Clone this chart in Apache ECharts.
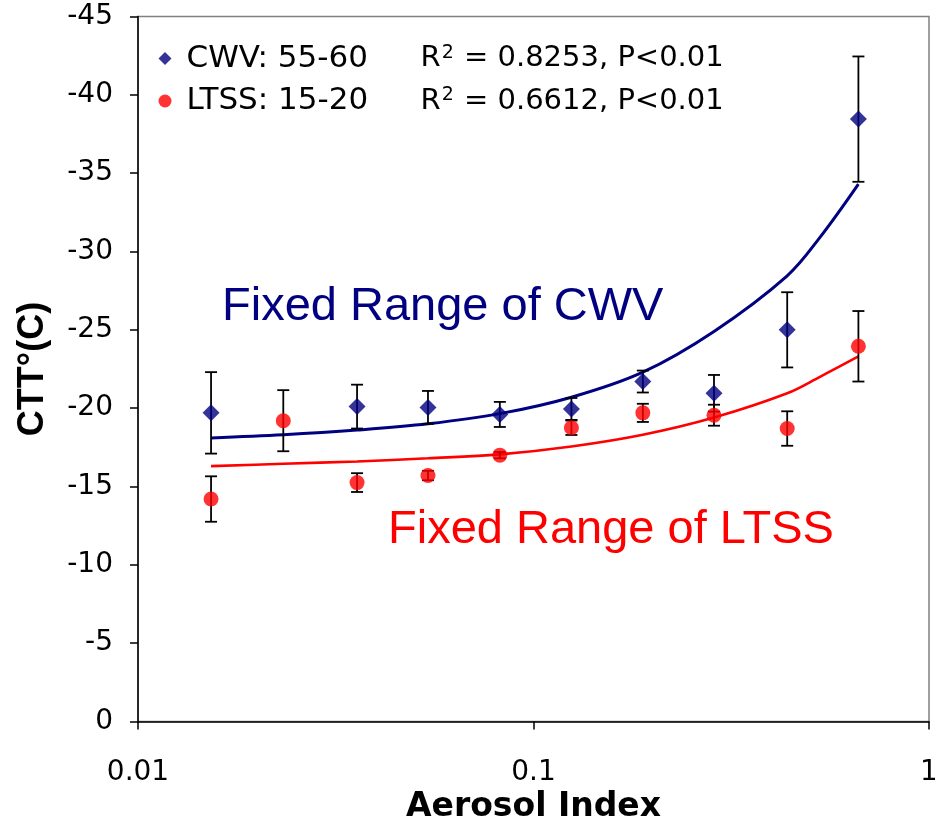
<!DOCTYPE html>
<html>
<head>
<meta charset="utf-8">
<script src="https://cdn.jsdelivr.net/npm/echarts/dist/echarts.min.js"></script>
<style>
html,body{margin:0;padding:0;background:#ffffff;}
#chart{width:935px;height:818px;}
</style>
</head>
<body>
<div id="chart"></div>
<script>
// ---- data ----
const xTickValues = [0.01, 0.1, 1];
const xTickLabels = ['0.01', '0.1', '1'];

const cwvName = 'CWV: 55-60';
const ltssName = 'LTSS: 15-20';
const r2Values = ['0.8253', '0.6612'];
const pText = 'P<0.01';

const cwvX   = [0.0153, 0.0358, 0.0541, 0.0822, 0.1247, 0.189, 0.286, 0.438, 0.663];
const cwvY   = [-19.7, -20.1, -20.05, -19.6, -19.95, -21.7, -20.95, -25.0, -38.45];
const cwvErr = [2.6, 1.4, 1.05, 0.8, 0.7, 0.7, 1.17, 2.4, 4.0];

const ltssX   = [0.0153, 0.0233, 0.0358, 0.0541, 0.0822, 0.1247, 0.189, 0.286, 0.438, 0.663];
const ltssY   = [-14.2, -19.2, -15.25, -15.7, -17.0, -18.75, -19.7, -19.55, -18.7, -23.95];
const ltssErr = [1.45, 1.95, 0.6, 0.3, 0.2, 0.46, 0.58, 0.67, 1.1, 2.25];

const fitX    = [0.0153, 0.0233, 0.0358, 0.0541, 0.0822, 0.1247, 0.189, 0.286, 0.438, 0.53, 0.663];
const cwvFit  = [-18.1, -18.3, -18.6, -19.0, -19.65, -20.7, -22.3, -24.9, -28.45, -30.9, -34.3];
const ltssFit = [-16.3, -16.45, -16.6, -16.8, -17.05, -17.55, -18.3, -19.4, -20.95, -22.0, -23.3];

const cwvNote = 'Fixed Range of CWV';
const ltssNote = 'Fixed Range of LTSS';

// ---- chart ----
const BLUE = '#000080';
const RED = '#ff0000';

function errorBarItem(params, api) {
  const x = api.value(0), lo = api.value(1), hi = api.value(2);
  const pLo = api.coord([x, lo]);
  const pHi = api.coord([x, hi]);
  const hw = 6;
  const style = { stroke: '#000000', lineWidth: 1.8 };
  return {
    type: 'group',
    children: [
      { type: 'line', shape: { x1: pLo[0], y1: pLo[1], x2: pHi[0], y2: pHi[1] }, style: style },
      { type: 'line', shape: { x1: pLo[0] - hw, y1: pLo[1], x2: pLo[0] + hw, y2: pLo[1] }, style: style },
      { type: 'line', shape: { x1: pHi[0] - hw, y1: pHi[1], x2: pHi[0] + hw, y2: pHi[1] }, style: style }
    ]
  };
}

const legendR2 = {};
legendR2[cwvName] = r2Values[0];
legendR2[ltssName] = r2Values[1];

const chart = echarts.init(document.getElementById('chart'), null, { renderer: 'canvas' });
chart.setOption({
  animation: false,
  backgroundColor: '#ffffff',
  grid: {
    left: 138, right: 6, top: 16.5, bottom: 96.5,
    outerBoundsMode: 'none',
    containLabel: false,
    show: true, borderColor: '#808080', borderWidth: 1.5, backgroundColor: 'transparent'
  },
  legend: {
    orient: 'vertical',
    left: 158.5, top: 43,
    padding: 0,
    itemWidth: 13, itemHeight: 13,
    itemGap: 11.5,
    selectedMode: false,
    data: [{ name: cwvName, icon: 'diamond' }, { name: ltssName, icon: 'circle' }],
    formatter: function (name) {
      return '{n|' + name + '}{r|R}{s|2}{r| = ' + legendR2[name] + ', ' + pText + '}';
    },
    textStyle: {
      color: '#000000',
      fontFamily: 'DejaVu Sans',
      fontSize: 29,
      rich: {
        n: { fontFamily: 'DejaVu Sans', fontSize: 31, lineHeight: 30, width: 234, padding: [0, 0, 0, 10], color: '#000000' },
        r: { fontFamily: 'DejaVu Sans', fontSize: 29, lineHeight: 30, color: '#000000' },
        s: { fontFamily: 'DejaVu Sans', fontSize: 19, lineHeight: 8, verticalAlign: 'top', color: '#000000', padding: [0, 1, 0, 1] }
      }
    }
  },
  xAxis: {
    type: 'log',
    logBase: 10,
    min: 0.01,
    max: 1,
    name: 'Aerosol Index',
    nameLocation: 'middle',
    nameGap: 50,
    nameTextStyle: { fontFamily: 'DejaVu Sans', fontWeight: 'bold', fontSize: 33, color: '#000000' },
    axisLine: { show: true, onZero: false, lineStyle: { color: '#000000', width: 1.5 } },
    axisTick: { show: true, length: 8, inside: false, lineStyle: { color: '#000000', width: 1.5 } },
    minorTick: { show: false },
    splitLine: { show: false },
    axisLabel: {
      margin: 37,
      fontFamily: 'DejaVu Sans',
      fontSize: 28,
      color: '#000000',
      formatter: function (v) {
        for (let i = 0; i < xTickValues.length; i++) {
          if (Math.abs(Math.log10(xTickValues[i]) - Math.log10(v)) < 1e-6) return xTickLabels[i];
        }
        return '';
      }
    }
  },
  yAxis: {
    type: 'value',
    min: -45,
    max: 0,
    interval: 5,
    inverse: true,
    name: 'CTT°(C)',
    nameLocation: 'middle',
    nameRotate: 90,
    nameGap: 87,
    nameTextStyle: { fontFamily: 'Liberation Sans', fontWeight: 'bold', fontSize: 36, color: '#000000' },
    axisLine: { show: true, onZero: false, lineStyle: { color: '#000000', width: 1.5 } },
    axisTick: { show: true, length: 8, inside: false, lineStyle: { color: '#000000', width: 1.5 } },
    splitLine: { show: false },
    axisLabel: { margin: 25, fontFamily: 'DejaVu Sans', fontSize: 28, color: '#000000' }
  },
  graphic: [
    {
      type: 'text', left: 222, top: 284, z: 10,
      style: { text: cwvNote, font: '47px "Liberation Sans"', fill: BLUE }
    },
    {
      type: 'text', left: 388, top: 507, z: 10,
      style: { text: ltssNote, font: '47px "Liberation Sans"', fill: RED }
    }
  ],
  series: [
    {
      name: 'CWV fit', type: 'line', silent: true,
      data: fitX.map((x, i) => [x, cwvFit[i]]),
      smooth: 0.35, symbol: 'none',
      lineStyle: { color: BLUE, width: 3 }, z: 2
    },
    {
      name: 'LTSS fit', type: 'line', silent: true,
      data: fitX.map((x, i) => [x, ltssFit[i]]),
      smooth: 0.35, symbol: 'none',
      lineStyle: { color: RED, width: 2.6 }, z: 2
    },
    {
      name: 'CWV err', type: 'custom', silent: true,
      renderItem: errorBarItem,
      encode: { x: 0, y: [1, 2] },
      data: cwvX.map((x, i) => [x, cwvY[i] - cwvErr[i], cwvY[i] + cwvErr[i]]),
      z: 3
    },
    {
      name: 'LTSS err', type: 'custom', silent: true,
      renderItem: errorBarItem,
      encode: { x: 0, y: [1, 2] },
      data: ltssX.map((x, i) => [x, ltssY[i] - ltssErr[i], ltssY[i] + ltssErr[i]]),
      z: 3
    },
    {
      name: cwvName, type: 'scatter', symbol: 'diamond', symbolSize: 17,
      data: cwvX.map((x, i) => [x, cwvY[i]]),
      itemStyle: { color: BLUE }, z: 5
    },
    {
      name: ltssName, type: 'scatter', symbol: 'circle', symbolSize: 15,
      data: ltssX.map((x, i) => [x, ltssY[i]]),
      itemStyle: { color: RED }, z: 5
    }
  ]
});
</script>
</body>
</html>
